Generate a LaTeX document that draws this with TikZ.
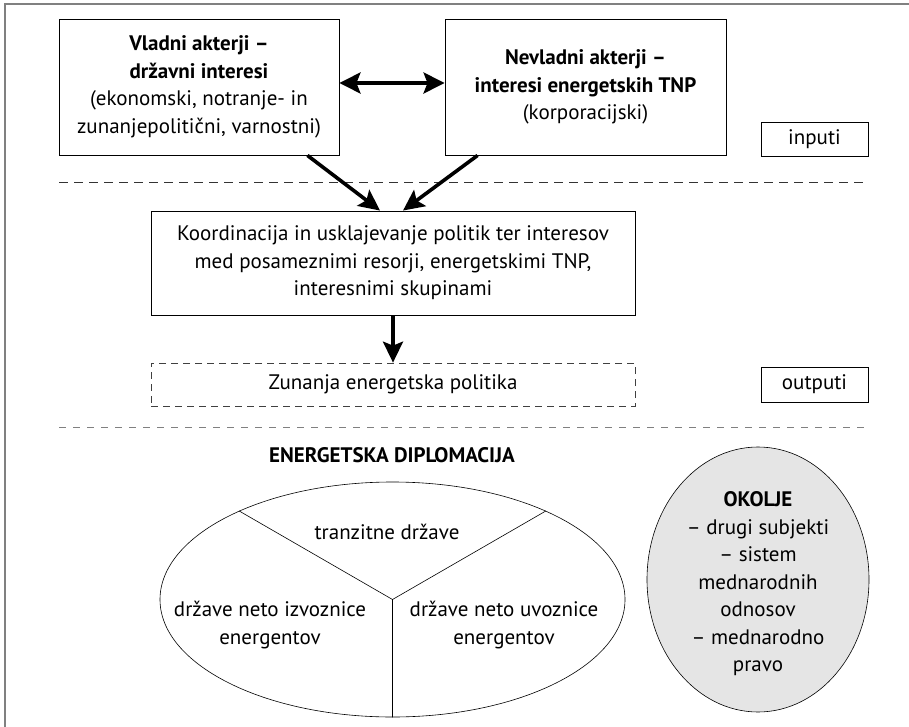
\documentclass[tikz,border=0pt]{standalone}
\usepackage{fontspec}
\setmainfont{PT Sans}
\usetikzlibrary{arrows.meta,shapes.geometric}

\begin{document}
\begin{tikzpicture}[x=1pt,y=-1pt,font=\fontsize{21}{27.5}\selectfont,
	box/.style={draw, line width=0.9pt, align=center, inner sep=0pt},
	dashbox/.style={draw=black!75, dash pattern=on 7pt off 5pt, line width=0.7pt, inner sep=0pt},
	bigarrow/.style={line width=3.6pt, -{Stealth[length=21pt,width=20pt,inset=4pt]}},
	sep/.style={dash pattern=on 9pt off 6pt, line width=0.8pt},
	bold/.style={font=\fontsize{21}{27.5}\selectfont\bfseries}]
	\def\tipp{Stealth[length=21pt,width=21pt,inset=4pt]}
	\useasboundingbox (0,0) rectangle (909,727);
	\draw[gray, line width=1.8pt] (5,727) -- (5,4) -- (909,4);
	\node[box, minimum width=280, minimum height=136] (vladni) at (199,87)
		{{\bfseries Vladni akterji –}\\{\bfseries državni interesi}\\(ekonomski, notranje- in\\zunanjepolitični, varnostni)};
	\node[box, minimum width=281, minimum height=136] (nevladni) at (585.5,87)
		{{\bfseries Nevladni akterji –}\\{\bfseries interesi energetskih TNP}\\(korporacijski)};
	\node[box, minimum width=107, minimum height=34] (inputi) at (814.5,139) {inputi};
	\draw[sep, black!80] (59,182) -- (868,182);
	\node[box, minimum width=484, minimum height=104] (koord) at (393,263)
		{Koordinacija in usklajevanje politik ter interesov\\med posameznimi resorji, energetskimi TNP,\\interesnimi skupinami};
	\node[dashbox, minimum width=484, minimum height=43] (zunanja) at (393,384.5) {Zunanja energetska politika};
	\node[box, minimum width=107, minimum height=35] (outputi) at (814.5,384.5) {outputi};
	\draw[sep, gray, dash pattern=on 7pt off 7pt] (59,427) -- (868,427);
	\draw[line width=3.6pt, {\tipp}-{\tipp}] ([yshift=4pt]vladni.east) -- ([yshift=4pt]nevladni.west);
	\draw[bigarrow] ([xshift=-32pt]vladni.south east) -- ([xshift=-13pt]koord.north);
	\draw[bigarrow] ([xshift=33pt]nevladni.south west) -- ([xshift=10pt]koord.north);
	\draw[bigarrow] (koord.south) -- (zunanja.north);
	\node[bold] (naslov) at (392,455) {ENERGETSKA DIPLOMACIJA};
	\node[draw, ellipse, line width=0.6pt, minimum width=465, minimum height=235, inner sep=0pt] (diplo) at (392.5,599.5) {};
	\draw[line width=0.6pt] (diplo.150) -- (diplo.center) -- (diplo.30) (diplo.center) -- (diplo.south);
	\node (tranz) at (387,532) {tranzitne države};
	\node[align=center] (izvoz) at (270,625) {države neto izvoznice\\energentov};
	\node[align=center] (uvoz) at (504,625) {države neto uvoznice\\energentov};
	\node[draw, ellipse, fill=black!10, line width=0.6pt, minimum width=222, minimum height=265, inner sep=0pt] (okolje) at (758,579.5) {};
	\node[align=center] (okoljetxt) at (758,584) {{\bfseries OKOLJE}\\– drugi subjekti\\– sistem\\mednarodnih\\odnosov\\– mednarodno\\pravo};
\end{tikzpicture}
\end{document}
